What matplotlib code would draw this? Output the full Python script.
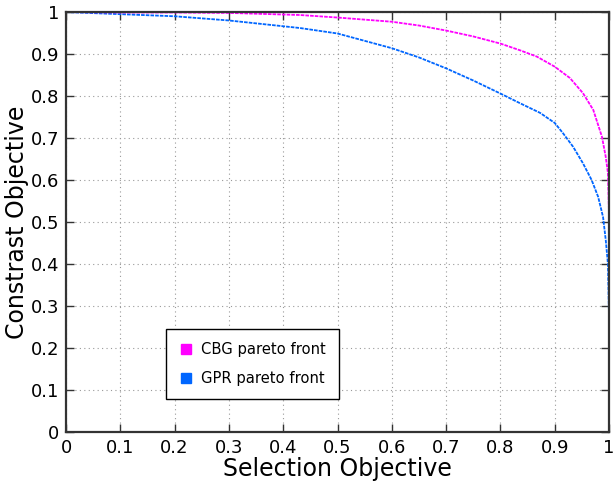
import matplotlib
matplotlib.use('Agg')
from matplotlib import pyplot as plt
from matplotlib.lines import Line2D

# values
cbg_x = [0.0, 0.1, 0.2, 0.3, 0.431, 0.5, 0.6, 0.65, 0.7, 0.75, 0.8, 0.836, 0.867,
         0.9, 0.928, 0.952, 0.971, 0.987, 0.994, 0.998, 1.0, 1.0]
cbg_y = [1.0, 0.999, 0.999, 0.998, 0.993, 0.987, 0.977, 0.968, 0.956, 0.942, 0.925,
         0.909, 0.894, 0.870, 0.843, 0.807, 0.767, 0.703, 0.655, 0.617, 0.52, 0.49]

gpr_x = [0.0, 0.1, 0.2, 0.3, 0.431, 0.5, 0.6, 0.65, 0.7, 0.75, 0.8, 0.836, 0.873,
         0.9, 0.915, 0.934, 0.952, 0.968, 0.98, 0.989, 0.994, 0.998, 1.0]
gpr_y = [1.0, 0.995, 0.99, 0.98, 0.962, 0.949, 0.914, 0.892, 0.866, 0.837, 0.806,
         0.783, 0.76, 0.736, 0.712, 0.679, 0.64, 0.6, 0.56, 0.512, 0.457, 0.40, 0.275]

ticks = [i / 10 for i in range(11)]
tick_labels = ['0', '0.1', '0.2', '0.3', '0.4', '0.5', '0.6', '0.7', '0.8', '0.9', '1']

cbg_color = '#ff00ff'
gpr_color = '#0066ff'

fig = plt.figure(figsize=(6.13, 4.83), dpi=100)
ax = fig.add_axes([0.1077, 0.1056, 0.8858, 0.8694])

ax.plot(gpr_x, gpr_y, color=gpr_color, lw=1.3, ls=(0, (2, 0.6)))
ax.plot(cbg_x, cbg_y, color=cbg_color, lw=1.3, ls=(0, (2, 0.6)))

ax.set_xlim(0, 1)
ax.set_ylim(0, 1)
ax.set_xticks(ticks)
ax.set_xticklabels(tick_labels)
ax.set_yticks(ticks)
ax.set_yticklabels(tick_labels)
ax.tick_params(direction='in', top=True, right=True, labelsize=13, length=6,
               width=1, color='#333333', pad=5)
for spine in ax.spines.values():
    spine.set_linewidth(1.6)
    spine.set_color('#333333')
ax.grid(True, ls=(0, (1, 3)), color='#999999', lw=0.8)

ax.set_xlabel('Selection Objective', fontsize=17, labelpad=0)
ax.set_ylabel('Constrast Objective', fontsize=17, labelpad=1)

handles = [
    Line2D([], [], color=cbg_color, marker='s', ls='none', markersize=7),
    Line2D([], [], color=gpr_color, marker='s', ls='none', markersize=7),
]
leg = ax.legend(handles, ['CBG pareto front', 'GPR pareto front'],
                loc='lower left', bbox_to_anchor=(0.17, 0.06), fontsize=10.6,
                fancybox=False, edgecolor='black', framealpha=1,
                handlelength=1.0, handletextpad=0.5, borderpad=0.9, labelspacing=0.95)
leg.get_frame().set_linewidth(1.0)

plt.savefig('out.png', dpi=100)
